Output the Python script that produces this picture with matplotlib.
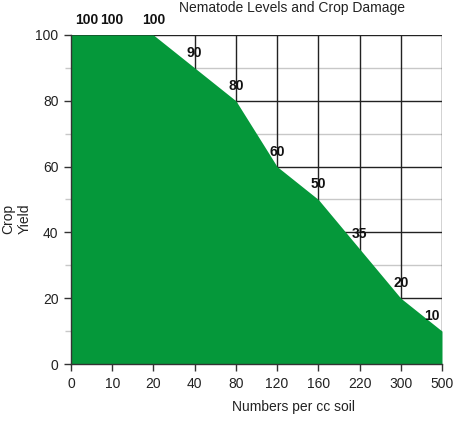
import matplotlib
matplotlib.use("Agg")
import matplotlib.pyplot as plt
import numpy as np

categories = ["0", "10", "20", "40", "80", "120", "160", "220", "300", "500"]
crop_yield = [100, 100, 100, 90, 80, 60, 50, 35, 20, 10]
y_ticks = [0, 20, 40, 60, 80, 100]
y_minor = [10, 30, 50, 70, 90]

plt.rcParams['font.family'] = ['Liberation Sans', 'DejaVu Sans']

W, H = 468, 423
fig = plt.figure(figsize=(W / 100, H / 100), dpi=100)
ax = fig.add_axes([71 / W, (H - 364) / H, (442 - 71) / W, (364 - 35) / H])

x = np.arange(len(categories))
green = '#05983a'

ax.set_xlim(0, len(categories) - 1)
ax.set_ylim(0, 100)

# grid
for yv in y_minor:
    ax.axhline(yv, color='#c8c8c8', lw=1, zorder=1)
for yv in y_ticks[1:]:
    ax.axhline(yv, color='#222222', lw=1, zorder=1.5)
for xv in x[1:]:
    ax.axvline(xv, color='#222222', lw=1, zorder=1.5)

ax.fill_between(x, 0, crop_yield, color=green, lw=0, zorder=2)

# value labels
n = len(crop_yield)
for i, v in enumerate(crop_yield):
    dx = 0
    if i == 0:
        dx = 16
    elif i == n - 1:
        dx = -10
    ax.annotate(str(v), (x[i], v), xytext=(dx, 8), textcoords='offset pixels',
                ha='center', va='bottom', fontsize=10, fontweight='bold', color='#111111',
                zorder=5, annotation_clip=False)

ax.set_xticks(x)
ax.set_xticklabels(categories)
ax.set_yticks(y_ticks)
ax.set_yticks(y_minor, minor=True)
ax.tick_params(axis='both', which='major', direction='out', length=5, width=1,
               color='#333333', labelsize=10, labelcolor='#222222', pad=4)
ax.tick_params(axis='y', which='minor', direction='out', length=4, width=1, color='#c8c8c8')

for s in ['top', 'right']:
    ax.spines[s].set_visible(False)
for s in ['left', 'bottom']:
    ax.spines[s].set_color('#333333')
    ax.spines[s].set_linewidth(1)
    ax.spines[s].set_zorder(6)

fig.text(292 / W, 1 - 8 / H, "Nematode Levels and Crop Damage", ha='center', va='center',
         fontsize=10, color='#222222')
fig.text(293 / W, 1 - 407 / H, "Numbers per cc soil", ha='center', va='center',
         fontsize=10, color='#222222')
fig.text(16.5 / W, 1 - 219 / H, "Crop\nYield", ha='center', va='center', rotation=90,
         fontsize=10, color='#222222', linespacing=1.3)

fig.savefig("out.png", dpi=100)
